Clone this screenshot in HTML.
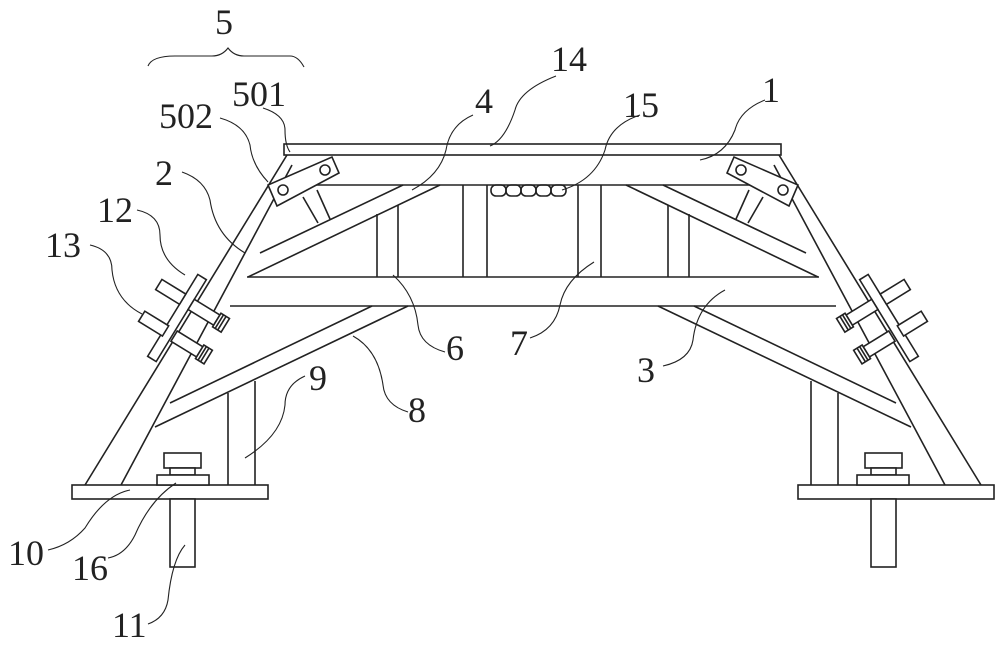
<!DOCTYPE html>
<html><head><meta charset="utf-8"><style>
html,body{margin:0;padding:0;background:#fff;}
svg{display:block;}
text{font-family:"Liberation Serif",serif;font-size:36px;fill:#222;}
</style></head><body>
<svg width="1000" height="645" viewBox="0 0 1000 645" xmlns="http://www.w3.org/2000/svg">
<g stroke="#222" stroke-width="1.6" fill="none">
<!-- top plate 14 -->
<rect x="284" y="144" width="497" height="11" fill="#fff"/>
<!-- beam 1 bottom -->
<line x1="296" y1="185" x2="770" y2="185"/>
<!-- beam 3 -->
<line x1="247" y1="277" x2="819" y2="277"/>
<line x1="230" y1="306" x2="836" y2="306"/>
<!-- center posts 7 -->
<line x1="463" y1="185" x2="463" y2="277"/>
<line x1="487" y1="185" x2="487" y2="277"/>
<line x1="578" y1="185" x2="578" y2="277"/>
<line x1="601" y1="185" x2="601" y2="277"/>
<!-- bumps 15 -->
<rect x="491" y="185" width="15" height="11" rx="5"/>
<rect x="506" y="185" width="15" height="11" rx="5"/>
<rect x="521" y="185" width="15" height="11" rx="5"/>
<rect x="536" y="185" width="15" height="11" rx="5"/>
<rect x="551" y="185" width="15" height="11" rx="5"/>
<g id="half">
<!-- leg 2 -->
<line x1="287" y1="155" x2="85" y2="485"/>
<line x1="292" y1="165" x2="121" y2="485"/>
<!-- brace 4 -->
<line x1="260" y1="253" x2="403" y2="185"/>
<line x1="248" y1="277" x2="440" y2="185"/>
<!-- brace 8 -->
<line x1="408" y1="306" x2="155" y2="427"/>
<line x1="372" y1="306" x2="170" y2="403"/>
<!-- posts 6 -->
<line x1="377" y1="214" x2="377" y2="277"/>
<line x1="398" y1="205" x2="398" y2="277"/>
<!-- posts 9 -->
<line x1="228" y1="393" x2="228" y2="485"/>
<line x1="255" y1="381" x2="255" y2="485"/>
<!-- base plate 10 -->
<rect x="72" y="485" width="196" height="14" fill="#fff"/>
<!-- bolt 16 -->
<rect x="164" y="453" width="37" height="15" fill="#fff"/>
<rect x="170" y="468" width="25" height="7" fill="#fff"/>
<rect x="157" y="475" width="52" height="10" fill="#fff"/>
<!-- stud 11 -->
<rect x="170" y="499" width="25" height="68" fill="#fff"/>
<!-- bracket 501/502 -->
<line x1="303" y1="197" x2="318" y2="223"/>
<line x1="317" y1="190" x2="330" y2="219"/>
<polygon points="268,185 277,206 339,173 332,157" fill="#fff"/>
<circle cx="283" cy="190" r="5"/>
<circle cx="325" cy="170" r="5"/>
<!-- clamp 12/13 -->
<g transform="translate(177,318) rotate(31.5)">
 <rect x="-5" y="-48" width="10" height="96" fill="#fff"/>
 <g transform="translate(0,-19)">
  <rect x="-33" y="-6" width="28" height="12" fill="#fff"/>
  <rect x="5" y="-6" width="30" height="12" fill="#fff"/>
  <rect x="35" y="-8" width="10" height="16" fill="#fff"/>
  <line x1="38" y1="-8" x2="38" y2="8"/><line x1="41" y1="-8" x2="41" y2="8"/>
 </g>
 <g transform="translate(2,17)">
  <rect x="-33" y="-6" width="28" height="12" fill="#fff"/>
  <rect x="5" y="-6" width="30" height="12" fill="#fff"/>
  <rect x="35" y="-8" width="10" height="16" fill="#fff"/>
  <line x1="38" y1="-8" x2="38" y2="8"/><line x1="41" y1="-8" x2="41" y2="8"/>
 </g>
</g>
</g>
<use href="#half" transform="translate(1066,0) scale(-1,1)"/>
<!-- leaders -->
<g stroke-width="1.1">
<path d="M148 66 Q152 56 175 56 L212 56 Q222 56 228 48 Q234 56 244 56 L290 56 Q298 56 304 67"/>
<path d="M556 76 Q520 90 515 110 Q505 140 490 146"/>
<path d="M263 108 Q285 115 285 130 Q285 145 290 152"/>
<path d="M220 118 Q245 125 250 145 Q252 165 268 182"/>
<path d="M765 100 Q740 110 735 130 Q725 155 700 160"/>
<path d="M473 115 Q450 125 446 150 Q440 175 412 190"/>
<path d="M640 115 Q610 125 605 150 Q595 180 562 190"/>
<path d="M182 172 Q205 180 210 200 Q215 235 245 253"/>
<path d="M137 210 Q160 215 160 235 Q160 260 185 275"/>
<path d="M90 245 Q112 250 112 270 Q115 300 142 314"/>
<path d="M445 352 Q420 345 418 325 Q415 295 393 275"/>
<path d="M530 338 Q555 330 560 305 Q565 280 594 262"/>
<path d="M663 366 Q690 360 693 340 Q697 305 725 290"/>
<path d="M408 412 Q385 405 383 385 Q378 350 353 336"/>
<path d="M305 376 Q285 385 285 405 Q282 435 245 458"/>
<path d="M48 550 Q70 545 85 528 Q105 495 130 490"/>
<path d="M108 558 Q125 555 135 535 Q150 500 176 483"/>
<path d="M148 624 Q165 618 168 600 Q172 560 185 545"/>
</g>
</g>
<g>
<text x="215" y="34">5</text>
<text x="551" y="71">14</text>
<text x="232" y="106">501</text>
<text x="159" y="128">502</text>
<text x="762" y="102">1</text>
<text x="475" y="113">4</text>
<text x="623" y="117">15</text>
<text x="155" y="185">2</text>
<text x="97" y="222">12</text>
<text x="45" y="257">13</text>
<text x="446" y="360">6</text>
<text x="510" y="355">7</text>
<text x="637" y="382">3</text>
<text x="408" y="422">8</text>
<text x="309" y="390">9</text>
<text x="8" y="565">10</text>
<text x="72" y="580">16</text>
<text x="112" y="637">11</text>
</g>
</svg>
</body></html>
